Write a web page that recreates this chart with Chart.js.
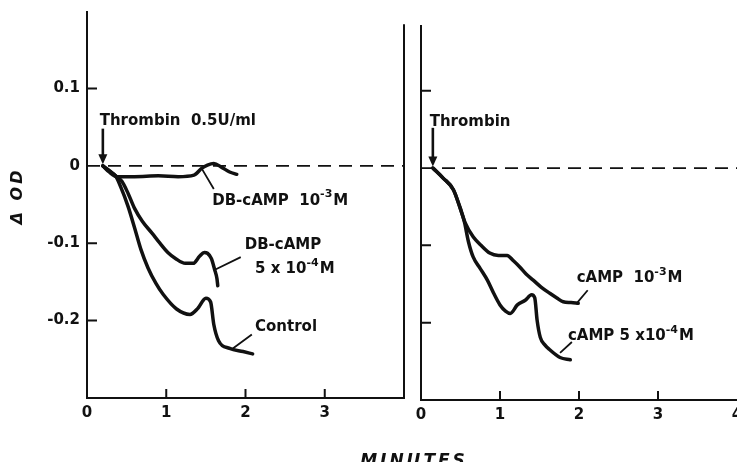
<!DOCTYPE html>
<html>
<head>
<meta charset="utf-8">
<script src="https://cdn.jsdelivr.net/npm/chart.js@4.4.0/dist/chart.umd.min.js"></script>
<style>
  html, body { margin: 0; padding: 0; background: #fff; overflow: hidden; }
  #wrap { position: relative; width: 737px; height: 462px; overflow: hidden; }
  canvas { position: absolute; left: 0; top: 0; }
</style>
</head>
<body>
<div id="wrap">
  <canvas id="leftChart" width="737" height="462"></canvas>
  <canvas id="rightChart" width="760" height="462"></canvas>
</div>
<script>
// time (minutes) and delta OD
const ctrlT = [0.2, 0.28, 0.36, 0.42, 0.52, 0.6, 0.68, 0.77, 0.87, 0.96, 1.13, 1.3, 1.4, 1.5, 1.56, 1.6, 1.66, 1.8, 1.97, 2.09];
const ctrlY = [0, -0.007, -0.013, -0.026, -0.053, -0.08, -0.108, -0.132, -0.152, -0.166, -0.185, -0.192, -0.184, -0.171, -0.176, -0.205, -0.226, -0.236, -0.24, -0.243];

const db4T = [0.2, 0.28, 0.36, 0.44, 0.52, 0.6, 0.7, 0.82, 0.92, 1.02, 1.12, 1.24, 1.34, 1.42, 1.48, 1.52, 1.57, 1.61, 1.64, 1.65];
const db4Y = [0, -0.006, -0.013, -0.02, -0.036, -0.055, -0.072, -0.087, -0.1, -0.112, -0.12, -0.126, -0.126, -0.117, -0.112, -0.113, -0.12, -0.134, -0.146, -0.155];

const db3T = [0.2, 0.28, 0.38, 0.6, 0.9, 1.15, 1.35, 1.45, 1.52, 1.6, 1.7, 1.8, 1.89];
const db3Y = [0, -0.008, -0.014, -0.014, -0.013, -0.014, -0.012, -0.003, 0.001, 0.003, -0.002, -0.008, -0.011];

const c3T = [0.15, 0.28, 0.41, 0.49, 0.56, 0.66, 0.76, 0.87, 0.98, 1.09, 1.17, 1.25, 1.33, 1.42, 1.52, 1.63, 1.72, 1.8, 1.9, 1.99];
const c3Y = [0, -0.013, -0.028, -0.05, -0.071, -0.089, -0.1, -0.11, -0.113, -0.113, -0.12, -0.128, -0.137, -0.145, -0.154, -0.162, -0.168, -0.173, -0.174, -0.175];

const c4T = [0.15, 0.28, 0.41, 0.49, 0.55, 0.6, 0.66, 0.75, 0.84, 0.92, 1.0, 1.07, 1.13, 1.22, 1.32, 1.4, 1.44, 1.47, 1.51, 1.57, 1.63, 1.76, 1.89];
const c4Y = [0, -0.013, -0.028, -0.05, -0.07, -0.095, -0.115, -0.13, -0.145, -0.162, -0.177, -0.185, -0.188, -0.177, -0.171, -0.164, -0.168, -0.197, -0.219, -0.229, -0.235, -0.245, -0.248];

const baseT = [0, 4];
const baseY = [0, 0];

const leftXTicks = [0, 1, 2, 3];
const rightXTicks = [0, 1, 2, 3, 4];
const yTicks = [0.1, 0, -0.1, -0.2];
const yTickLabels = ['0.1', '0', '-0.1', '-0.2'];

const FONT = '"DejaVu Sans", sans-serif';
const INK = '#111';

function pts(t, y) {
    return t.map((v, i) => ({ x: v, y: y[i] }));
}

function curve(t, y) {
    return {
        data: pts(t, y),
        borderColor: INK,
        borderWidth: 3.5,
        pointRadius: 0,
        cubicInterpolationMode: 'monotone',
        borderJoinStyle: 'round',
        borderCapStyle: 'round',
        fill: false
    };
}

function dashed() {
    return {
        data: pts(baseT, baseY),
        borderColor: INK,
        borderWidth: 1.8,
        borderDash: [13, 8],
        pointRadius: 0,
        fill: false
    };
}

function drawParts(ctx, x, y, parts, size) {
    let cx = x;
    for (const [txt, sup] of parts) {
        const s = sup ? Math.round(size * 0.7) : size;
        ctx.font = 'bold ' + s + 'px ' + FONT;
        ctx.fillText(txt, cx, sup ? y - size * 0.4 : y);
        cx += ctx.measureText(txt).width + (sup ? 1 : 0);
    }
}

// frame, inward ticks, arrows, labels and leader lines
const figurePlugin = {
    id: 'figure',
    afterDraw(chart, args, o) {
        const ctx = chart.ctx;
        const xs = chart.scales.x, ys = chart.scales.y;
        const X = v => xs.getPixelForValue(v), Y = v => ys.getPixelForValue(v);
        ctx.save();
        ctx.strokeStyle = INK;
        ctx.fillStyle = INK;
        ctx.lineWidth = 2;

        // axes
        ctx.beginPath();
        ctx.moveTo(X(0), Y(o.top));
        ctx.lineTo(X(0), Y(-0.3));
        ctx.lineTo(X(o.right), Y(-0.3));
        if (o.closeRight) ctx.lineTo(X(o.right), Y(0.183));
        ctx.stroke();

        // inward ticks
        ctx.beginPath();
        o.yMarks.forEach(v => { ctx.moveTo(X(0), Y(v)); ctx.lineTo(X(0) + 10, Y(v)); });
        o.xMarks.forEach(v => { ctx.moveTo(X(v), Y(-0.3)); ctx.lineTo(X(v), Y(-0.3) - 9); });
        ctx.stroke();

        // thrombin arrow
        const a = o.arrow;
        const ax = X(a.x), y0 = Y(a.from), y1 = Y(a.to);
        ctx.lineWidth = 2.6;
        ctx.beginPath();
        ctx.moveTo(ax, y0);
        ctx.lineTo(ax, y1 - 8);
        ctx.stroke();
        ctx.beginPath();
        ctx.moveTo(ax - 4.5, y1 - 10);
        ctx.lineTo(ax + 4.5, y1 - 10);
        ctx.lineTo(ax, y1);
        ctx.closePath();
        ctx.fill();

        // leader lines
        ctx.lineWidth = 1.8;
        ctx.beginPath();
        o.leaders.forEach(l => { ctx.moveTo(X(l[0]), Y(l[1])); ctx.lineTo(X(l[2]), Y(l[3])); });
        ctx.stroke();

        // labels
        ctx.textBaseline = 'middle';
        ctx.textAlign = 'left';
        o.labels.forEach(l => drawParts(ctx, X(l.x), Y(l.y), l.parts, 15));

        if (o.titles) {
            ctx.font = 'italic bold 16px ' + FONT;
            ctx.save();
            ctx.translate(18, 196);
            ctx.rotate(-Math.PI / 2);
            ctx.textAlign = 'center';
            ctx.letterSpacing = '3px';
            ctx.fillText('\u0394 OD', 0, 0);
            ctx.restore();

            ctx.save();
            ctx.font = 'italic bold 17px ' + FONT;
            ctx.textAlign = 'center';
            ctx.textBaseline = 'alphabetic';
            ctx.letterSpacing = '3px';
            ctx.fillText('MINUTES', (X(0) + chart.width) / 2 + 2, 466);
            ctx.restore();
        }
        ctx.restore();
    }
};

function makeScales(xTicks, yTop, yWidth, xHeight, showY) {
    return {
        x: {
            type: 'linear', min: 0, max: 4,
            afterFit: s => { s.height = xHeight; s.paddingLeft = 0; s.paddingRight = 0; },
            afterBuildTicks: s => { s.ticks = xTicks.map(v => ({ value: v })); },
            grid: { display: false, drawTicks: false },
            border: { display: false },
            ticks: { padding: 6, color: INK, font: { family: FONT, size: 15, weight: 'bold' }, maxRotation: 0, callback: v => String(v) }
        },
        y: {
            type: 'linear', min: -0.3, max: yTop,
            afterFit: s => { s.width = yWidth; s.paddingTop = 0; s.paddingBottom = 0; },
            afterBuildTicks: s => { s.ticks = yTicks.map(v => ({ value: v })); },
            grid: { display: false, drawTicks: false },
            border: { display: false },
            ticks: { display: showY, padding: 7, color: INK, font: { family: FONT, size: 15, weight: 'bold' }, callback: (v, i) => yTickLabels[i] }
        }
    };
}

new Chart(document.getElementById('leftChart'), {
    type: 'line',
    data: { datasets: [dashed(), curve(db3T, db3Y), curve(db4T, db4Y), curve(ctrlT, ctrlY)] },
    options: {
        responsive: false, animation: false, events: [],
        layout: { padding: { top: 11, right: 333, left: 0, bottom: 0 } },
        scales: makeScales(leftXTicks, 0.2, 87, 64, true),
        plugins: {
            legend: { display: false }, tooltip: { enabled: false },
            figure: {
                top: 0.2, right: 4, closeRight: true, titles: true,
                yMarks: [0.1, -0.1, -0.2], xMarks: [1, 2, 3],
                arrow: { x: 0.2, from: 0.048, to: 0.002 },
                leaders: [[1.45, -0.004, 1.6, -0.03], [1.62, -0.134, 1.94, -0.118], [1.84, -0.236, 2.08, -0.218]],
                labels: [
                    { x: 0.16, y: 0.058, parts: [['Thrombin  0.5U/ml', 0]] },
                    { x: 1.58, y: -0.045, parts: [['DB-cAMP  10', 0], ['-3', 1], ['M', 0]] },
                    { x: 1.99, y: -0.103, parts: [['DB-cAMP', 0]] },
                    { x: 2.12, y: -0.134, parts: [['5 x 10', 0], ['-4', 1], ['M', 0]] },
                    { x: 2.12, y: -0.209, parts: [['Control', 0]] }
                ]
            }
        }
    },
    plugins: [figurePlugin]
});

new Chart(document.getElementById('rightChart'), {
    type: 'line',
    data: { datasets: [dashed(), curve(c3T, c3Y), curve(c4T, c4Y)] },
    options: {
        responsive: false, animation: false, events: [],
        layout: { padding: { top: 25, right: 23, left: 0, bottom: 0 } },
        scales: makeScales(rightXTicks, 0.185, 421, 62, false),
        plugins: {
            legend: { display: false }, tooltip: { enabled: false },
            figure: {
                top: 0.185, right: 4.3, closeRight: false, titles: false,
                yMarks: [0.1, -0.1, -0.2], xMarks: [1, 2, 3],
                arrow: { x: 0.15, from: 0.052, to: 0.002 },
                leaders: [[1.97, -0.175, 2.11, -0.158], [1.76, -0.239, 1.91, -0.225]],
                labels: [
                    { x: 0.11, y: 0.06, parts: [['Thrombin', 0]] },
                    { x: 1.97, y: -0.142, parts: [['cAMP  10', 0], ['-3', 1], ['M', 0]] },
                    { x: 1.86, y: -0.217, parts: [['cAMP 5 x10', 0], ['-4', 1], ['M', 0]] }
                ]
            }
        }
    },
    plugins: [figurePlugin]
});
</script>
</body>
</html>
